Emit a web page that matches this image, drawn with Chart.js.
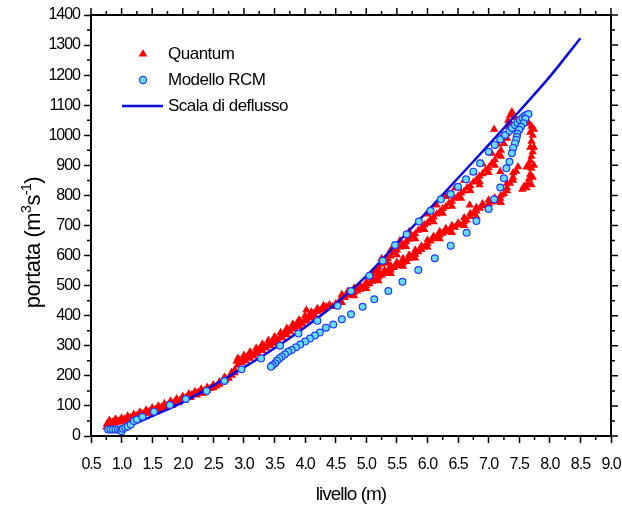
<!DOCTYPE html>
<html>
<head>
<meta charset="utf-8">
<script src="https://cdn.jsdelivr.net/npm/chart.js@4.4.1/dist/chart.umd.min.js"></script>
<style>
  html, body { margin: 0; padding: 0; background: #fff; }
  #wrap { width: 622px; height: 510px; position: relative; }
</style>
</head>
<body>
<div id="wrap"><canvas id="scala"></canvas></div>
<script>
// [livello (m), portata (m3/s)]
const quantumRising = [
  [0.75,30],[0.76,40],[0.78,36],[0.8,44],[0.82,38],[0.85,46],[0.88,42],[0.9,48],[0.93,45],[0.95,50],
  [0.98,47],[1.0,53],[1.03,50],[1.05,56],[1.08,54],[1.1,58],[1.13,56],[1.15,61],[1.2,64],[1.23,62],
  [1.25,68],[1.3,70],[1.33,68],[1.35,74],[1.4,77],[1.43,75],[1.45,81],[1.5,84],[1.53,82],[1.55,88],
  [1.6,90],[1.63,88],[1.65,95],[1.7,97],[1.73,95],[1.75,102],[1.8,104],[1.83,102],[1.85,110],[1.9,113],
  [1.93,110],[1.95,118],[2.0,122],[2.03,119],[2.05,128],[2.1,131],[2.13,128],[2.15,138],[2.2,140],[2.23,136],
  [2.25,145],[2.3,146],[2.33,142],[2.35,150],[2.4,153],[2.45,158],[2.5,160],[2.55,166],[2.6,172],[2.65,180],
  [2.68,195],[2.7,186],[2.75,192],[2.8,202],[2.85,210],[2.88,248],[2.9,236],[2.93,252],[2.96,244],[3.0,258],
  [3.03,250],[3.06,265],[3.1,258],[3.13,272],[3.16,266],[3.2,280],[3.23,274],[3.26,290],[3.3,284],[3.33,298],
  [3.36,292],[3.4,306],[3.43,300],[3.46,314],[3.5,308],[3.53,322],[3.56,316],[3.6,332],[3.63,326],[3.66,342],
  [3.7,336],[3.73,352],[3.76,346],[3.8,362],[3.83,356],[3.86,372],[3.9,364],[3.93,380],[3.96,372],[4.0,388],
  [4.03,382],[4.06,398],[4.02,419],[4.1,392],[4.13,408],[4.16,400],[4.2,414],[4.25,418],[4.3,424],[4.35,430],
  [4.4,436],
  [0.8,52],[0.9,56],[1.0,60],[1.1,66],[1.2,72],[1.3,80],[1.4,86],[1.5,94],[1.6,100],[1.7,108],
  [1.8,116],[1.9,124],[2.0,132],[2.1,140],[2.2,148],[2.3,156],[2.4,162],[2.5,170],[2.6,180],[2.7,192],
  [2.8,212],[2.85,220],
  [2.9,258],[3.0,268],[3.1,280],[3.2,292],[3.3,306],[3.4,318],[3.5,330],[3.6,344],[3.7,358],[3.8,372],
  [3.9,386],[4.0,400],[4.1,412],[4.2,424],[4.3,434],
  [5.1,540],[5.15,548],[5.2,562],[5.25,572],[5.3,580],[5.35,590],[5.4,598],[5.45,610],[5.5,618],[5.55,628],
  [5.6,636],[5.65,646],[5.7,654],[5.75,664],[5.8,672],[5.85,684],[5.9,690],[5.95,702],[6.0,708],[6.05,720],
  [6.1,728],[6.15,738],[6.2,744],[6.25,756],[6.3,762],[6.35,774],[6.4,780],[6.45,790],[6.5,798],[6.55,808],
  [6.6,814],[6.65,826],[6.7,832],[6.75,844],[6.8,852],[6.85,864],[6.9,872],[6.95,884],[7.0,892],[7.05,906],
  [7.1,918],[7.15,934],[7.2,950],[7.25,972],[7.27,1000],[7.3,1030],[7.32,1050],[7.35,1066],[7.38,1078],[7.4,1070],
  [7.43,1060],[7.46,1048],
  [5.25,590],[5.4,618],[5.55,650],[5.7,680],[5.85,710],[6.0,738],[6.15,768],[6.3,796],[6.45,824],[6.6,850],
  [6.75,876],[6.9,905],[7.05,940],[7.15,970],[7.22,995],[7.3,1005],[7.36,1020],
  [5.2,548],[5.35,574],[5.5,602],[5.65,630],[5.8,656],[5.95,686],[6.1,712],[6.25,740],[6.4,764],[6.55,790],
  [6.7,816],[6.85,846],[7.0,876],[7.1,900],[7.2,930],[7.3,990],[7.35,1040],
  [7.09,1020],[6.85,835],[6.69,768],[7.19,879]
];
const quantumFalling = [
  [7.62,1050],[7.66,1040],[7.7,1030],[7.68,1010],[7.72,1000],[7.7,980],[7.68,960],[7.72,945],[7.7,930],[7.68,915],
  [7.66,900],[7.7,890],[7.68,870],[7.66,855],[7.64,840],[7.7,835],[7.62,825],[7.58,830],[7.55,820],[7.62,894],
  [7.74,1020],[7.74,960],[7.74,900],[7.72,860],[7.6,1060],[7.56,1040],
  [7.48,895],[7.45,880],[7.4,860],[7.35,840],[7.3,825],[7.25,805],[7.19,790],[7.15,784],[7.1,780],[7.05,778],
  [7.0,772],[6.92,765],[6.86,757],[6.8,748],[6.75,740],[6.7,730],[6.64,718],[6.6,712],[6.53,702],[6.45,694],
  [6.37,686],[6.3,680],[6.25,674],[6.2,668],[6.15,662],[6.1,656],[6.05,648],[6.0,640],[5.95,628],[5.9,620],
  [5.85,612],[5.8,604],[5.75,598],[5.7,590],[5.66,580],[5.6,576],[5.55,570],[5.5,566],[5.45,560],[5.4,552],
  [5.35,548],[5.3,540],[5.25,534],[5.2,528],[5.15,520],[5.1,514],[5.05,506],[5.0,500],[4.95,495],[4.9,488],
  [4.85,482],[4.8,478],[4.75,468],[4.7,470],[4.65,460],[4.57,452],[4.5,440],[4.45,430],
  [7.4,875],[7.3,840],[7.2,800],[7.0,785],[6.8,760],[6.6,726],[6.4,700],[6.2,680],[6.0,652],[5.8,618],
  [5.6,590],[5.4,566],[5.2,540],[5.0,512],[4.8,492],[4.6,470],
  [4.7,482],[4.9,500],[5.1,526],[5.3,552],[5.5,578],[5.7,602],[5.9,632],[6.1,664],[6.3,690],[6.5,708],
  [6.7,740],[6.9,772],[7.1,792],[7.3,815],
  [4.6,444],[4.8,466],[5.0,490],[5.2,516],[5.4,540],[5.6,564],[5.8,592],[6.0,628],[6.2,656],[6.4,676],
  [6.6,700],[6.8,730],[7.0,760],[7.2,776],[7.4,850]
];
const rcmRising = [
  [0.78,22],[0.82,22],[0.86,22],[0.9,22],[0.94,22],[0.98,20],[1.0,16],[1.02,24],[1.06,28],[1.1,32],
  [1.15,38],[1.2,50],[1.25,55],[1.34,64],[1.53,81],[1.79,103],[2.05,123],[2.39,150],[2.68,183],[2.96,222],
  [3.28,258],[3.59,300],[3.89,341],[4.2,383],[4.53,433],[4.75,482],[5.05,533],[5.27,583],[5.47,635],[5.66,671],
  [5.86,713],[6.05,749],[6.22,787],[6.38,805],[6.5,829],[6.63,854],[6.75,879],[6.86,907],[7.0,945],[7.1,968],
  [7.19,987],[7.27,1001],[7.34,1015],[7.38,1024],[7.43,1034],[7.47,1042],[7.51,1051],[7.55,1058],[7.59,1064],[7.62,1068],
  [7.65,1071]
];
const rcmFalling = [
  [7.6,1055],[7.57,1040],[7.53,1028],[7.5,1018],[7.47,1005],[7.46,995],[7.45,985],[7.43,973],[7.4,958],[7.38,940],
  [7.34,912],[7.29,890],[7.25,857],[7.19,826],[7.09,787],[7.0,755],[6.8,715],[6.64,676],[6.38,633],[6.12,591],
  [5.85,552],[5.59,513],[5.36,482],[5.13,455],[4.94,430],[4.75,405],[4.6,388],[4.46,371],[4.34,360],[4.24,344],
  [4.16,334],[4.08,324],[4.0,314],[3.92,304],[3.85,295],[3.78,286],[3.72,280],[3.67,272],[3.62,264],[3.58,258],
  [3.54,250],[3.51,242],[3.47,236],[3.44,230]
];
const scalaDeflusso = [
  [0.95,14],[1.0,20],[1.5,66],[2.0,112],[2.5,168],[3.0,228],[3.5,292],[4.0,362],[4.5,440],[5.0,532],
  [5.5,640],[6.0,748],[6.5,858],[7.0,968],[7.5,1080],[8.0,1195],[8.5,1323]
];
const seriesNames = ['Quantum', 'Modello RCM', 'Scala di deflusso'];
const xRange = [0.5, 9.0, 0.5];
const yRange = [0, 1400, 100];

const FONT = "'Liberation Sans', Arial, sans-serif";
const RED = '#ff0000', CYAN = '#66dcff', BLUE_EDGE = '#1f3cff', LINE_BLUE = '#0a0ae6';

const toXY = arr => arr.map(p => ({ x: p[0], y: p[1] }));

// box frame with outward ticks, minor ticks, legend and y title
const framePlugin = {
  id: 'frame',
  beforeDraw(chart) {
    chart.ctx.letterSpacing = '-1px';
  },
  afterDraw(chart) {
    const { ctx, chartArea: a, scales: { x, y } } = chart;
    ctx.save();
    ctx.strokeStyle = '#000';
    ctx.lineWidth = 2;
    ctx.strokeRect(a.left, a.top, a.right - a.left, a.bottom - a.top);
    ctx.lineWidth = 1.5;
    ctx.beginPath();
    for (let i = 0; i <= (xRange[1] - xRange[0]) / xRange[2] * 2; i++) {
      const v = xRange[0] + i * xRange[2] / 2;
      const px = x.getPixelForValue(v);
      const len = i % 2 === 0 ? 7 : 4;
      ctx.moveTo(px, a.top); ctx.lineTo(px, a.top - len);
      if (len === 4) { ctx.moveTo(px, a.bottom); ctx.lineTo(px, a.bottom + len); }
    }
    for (let i = 0; i <= (yRange[1] - yRange[0]) / yRange[2] * 2; i++) {
      const v = yRange[0] + i * yRange[2] / 2;
      const py = y.getPixelForValue(v);
      const len = i % 2 === 0 ? 7 : 4;
      ctx.moveTo(a.right, py); ctx.lineTo(a.right + len, py);
      if (len === 4) { ctx.moveTo(a.left, py); ctx.lineTo(a.left - len, py); }
    }
    ctx.stroke();

    // legend
    ctx.letterSpacing = '-0.5px';
    ctx.font = '17px ' + FONT;
    ctx.textBaseline = 'middle';
    ctx.textAlign = 'left';
    ctx.fillStyle = '#000';
    const rows = [54, 80, 106];
    seriesNames.forEach((name, i) => ctx.fillText(name, 168, rows[i]));
    ctx.fillStyle = RED;
    Chart.helpers.drawPoint(ctx, { pointStyle: 'triangle', radius: 5, rotation: 0, borderWidth: 0 }, 143, rows[0]);
    ctx.fillStyle = CYAN; ctx.strokeStyle = BLUE_EDGE; ctx.lineWidth = 1.2;
    Chart.helpers.drawPoint(ctx, { pointStyle: 'circle', radius: 3.6, rotation: 0, borderWidth: 1.2 }, 143, rows[1]);
    ctx.strokeStyle = LINE_BLUE; ctx.lineWidth = 2.5;
    ctx.beginPath(); ctx.moveTo(122, rows[2]); ctx.lineTo(163, rows[2]); ctx.stroke();

    // y axis title with superscripts
    ctx.translate(32, (a.top + a.bottom) / 2 + 17);
    ctx.rotate(-Math.PI / 2);
    ctx.fillStyle = '#000';
    ctx.textBaseline = 'alphabetic';
    const parts = [['portata (m', 22, 0], ['3', 14, -9], ['s', 22, 0], ['-1', 14, -9], [')', 22, 0]];
    let w = 0;
    parts.forEach(p => { ctx.font = p[1] + 'px ' + FONT; w += ctx.measureText(p[0]).width; });
    let cx = -w / 2;
    parts.forEach(p => {
      ctx.font = p[1] + 'px ' + FONT;
      ctx.fillText(p[0], cx, 8 + p[2]);
      cx += ctx.measureText(p[0]).width;
    });
    ctx.restore();
  }
};

new Chart(document.getElementById('scala'), {
  type: 'scatter',
  data: {
    datasets: [
      {
        label: seriesNames[0],
        data: toXY(quantumRising.concat(quantumFalling)),
        pointStyle: 'triangle',
        pointRadius: 4.8,
        pointBorderWidth: 0,
        backgroundColor: RED,
        borderColor: RED,
        order: 3
      },
      {
        label: seriesNames[1],
        data: toXY(rcmRising.concat(rcmFalling)),
        pointStyle: 'circle',
        pointRadius: 3.4,
        pointBorderWidth: 1.2,
        backgroundColor: CYAN,
        borderColor: BLUE_EDGE,
        order: 1
      },
      {
        label: seriesNames[2],
        data: toXY(scalaDeflusso),
        showLine: true,
        pointRadius: 0,
        borderColor: LINE_BLUE,
        borderWidth: 2.5,
        cubicInterpolationMode: 'monotone',
        order: 2
      }
    ]
  },
  options: {
    responsive: true,
    maintainAspectRatio: false,
    animation: false,
    layout: { padding: { top: 15, right: 11, left: 0, bottom: 0 } },
    plugins: { legend: { display: false }, tooltip: { enabled: false } },
    scales: {
      x: {
        type: 'linear',
        min: xRange[0], max: xRange[1],
        afterFit: s => { s.height = 74; s.paddingLeft = 0; s.paddingRight = 0; },
        border: { display: true, color: '#000', width: 2 },
        grid: { drawOnChartArea: false, drawTicks: true, tickLength: 7, tickColor: '#000', tickWidth: 1.5 },
        ticks: {
          stepSize: xRange[2], padding: 12, color: '#000',
          font: { family: FONT, size: 16 },
          maxRotation: 0, autoSkip: false,
          callback: v => v.toFixed(1)
        },
        title: {
          display: true, text: 'livello (m)', color: '#000',
          font: { family: FONT, size: 19 }, padding: { top: 0, bottom: 4 }
        }
      },
      y: {
        type: 'linear',
        min: yRange[0], max: yRange[1],
        afterFit: s => { s.width = 91; s.paddingTop = 0; s.paddingBottom = 0; },
        border: { display: true, color: '#000', width: 2 },
        grid: { drawOnChartArea: false, drawTicks: true, tickLength: 7, tickColor: '#000', tickWidth: 1.5 },
        ticks: {
          stepSize: yRange[2], padding: 4, color: '#000',
          font: { family: FONT, size: 16 },
          autoSkip: false,
          callback: v => String(v)
        }
      }
    }
  },
  plugins: [framePlugin]
});
</script>
</body>
</html>
